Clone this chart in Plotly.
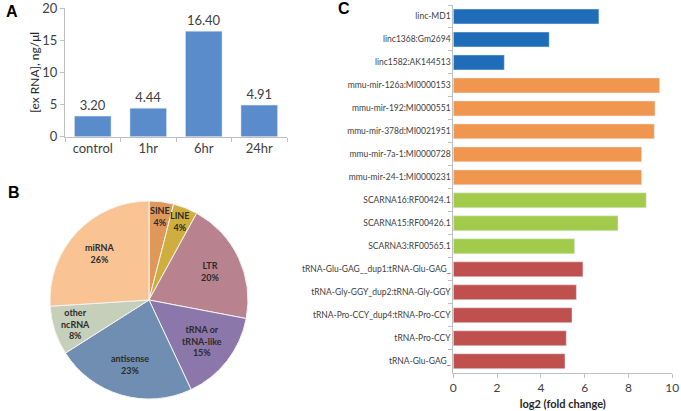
import math
import plotly.graph_objects as go

W, H = 681, 411

# ---------------- data ----------------
timepoints = ["control", "1hr", "6hr", "24hr"]
exrna_conc = [3.20, 4.44, 16.40, 4.91]
a_ticks = [0, 5, 10, 15, 20]

pie_labels = ["SINE", "LINE", "LTR", "tRNA or<br>tRNA-like", "antisense", "other<br>ncRNA", "miRNA"]
pie_pct = [4, 4, 20, 15, 23, 8, 26]

genes = [
    "linc-MD1", "linc1368:Gm2694", "linc1582:AK144513",
    "mmu-mir-126a:MI0000153", "mmu-mir-192:MI0000551", "mmu-mir-378d:MI0021951",
    "mmu-mir-7a-1:MI0000728", "mmu-mir-24-1:MI0000231",
    "SCARNA16:RF00424.1", "SCARNA15:RF00426.1", "SCARNA3:RF00565.1",
    "tRNA-Glu-GAG__dup1:tRNA-Glu-GAG_", "tRNA-Gly-GGY_dup2:tRNA-Gly-GGY",
    "tRNA-Pro-CCY_dup4:tRNA-Pro-CCY", "tRNA-Pro-CCY", "tRNA-Glu-GAG_",
]
log2fc = [6.65, 4.38, 2.33, 9.42, 9.21, 9.18, 8.60, 8.60, 8.81, 7.52, 5.54,
          5.92, 5.62, 5.42, 5.16, 5.10]
gene_group = ["lincRNA"] * 3 + ["miRNA"] * 5 + ["scaRNA"] * 3 + ["tRNA"] * 5

# ---------------- styles ----------------
FONT = "Lato, 'Open Sans', sans-serif"
group_colors = {"lincRNA": "#1F6DB8", "miRNA": "#F0964F", "scaRNA": "#A3CB4B", "tRNA": "#C0504D"}
pie_colors = ["#E0975A", "#CFAE3E", "#B8838F", "#8B77AA", "#6F8EB1", "#C5CFBA", "#F9C394"]
axis_col = "#BFBFBF"
txt_col = "#404040"


def px_x(x):
    return x / W


def px_y(y):
    return 1 - y / H


fig = go.Figure()

# Panel A
fig.add_trace(go.Bar(
    x=timepoints, y=exrna_conc, marker_color="#5A8BCB", width=0.66,
    texttemplate="%{y:.2f}", textposition="outside", cliponaxis=False,
    textfont=dict(size=13, color=txt_col, family=FONT),
    xaxis="x", yaxis="y", showlegend=False,
))

# Panel C
fig.add_trace(go.Bar(
    y=genes, x=log2fc, orientation="h", width=0.65,
    marker_color=[group_colors[g] for g in gene_group],
    xaxis="x2", yaxis="y2", showlegend=False,
))

# Panel B
pie_cx, pie_cy, pie_r = 149, 300, 99
fig.add_trace(go.Pie(
    labels=pie_labels, values=pie_pct, sort=False, direction="clockwise",
    marker=dict(colors=pie_colors, line=dict(color="#F4F4F4", width=1)),
    textinfo="none", hoverinfo="label+percent", showlegend=False,
    domain=dict(x=[px_x(pie_cx - pie_r), px_x(pie_cx + pie_r)],
                y=[px_y(pie_cy + pie_r), px_y(pie_cy - pie_r)]),
))

annotations = []
cum = 0
total = sum(pie_pct)
for lab, v in zip(pie_labels, pie_pct):
    mid = (cum + v / 2) / total * 2 * math.pi
    cum += v
    frac = 0.85 if v <= 5 else (0.78 if v <= 10 else 0.68)
    px = pie_cx + frac * pie_r * math.sin(mid)
    py = pie_cy - frac * pie_r * math.cos(mid)
    annotations.append(dict(
        x=px_x(px), y=px_y(py), xref="paper", yref="paper",
        text="<b>%s<br>%d%%</b>" % (lab, v), showarrow=False,
        font=dict(size=9, color="#2B2B2B", family=FONT),
        xanchor="center", yanchor="middle",
    ))

for letter, lx, ly in [("A", 12, 12), ("B", 14, 192), ("C", 344, 9)]:
    annotations.append(dict(
        x=px_x(lx), y=px_y(ly), xref="paper", yref="paper",
        text="<b>%s</b>" % letter, showarrow=False,
        font=dict(size=16, color="#000000", family="Arial"),
        xanchor="center", yanchor="middle",
    ))

fig.update_layout(
    width=W, height=H, margin=dict(l=0, r=0, t=0, b=0, autoexpand=False),
    paper_bgcolor="white", plot_bgcolor="white",
    font=dict(family=FONT, color=txt_col),
    annotations=annotations,
    xaxis=dict(
        domain=[px_x(65), px_x(287)], anchor="y", type="category", automargin=False,
        showline=True, linecolor=axis_col, linewidth=1,
        ticks="outside", tickson="boundaries", ticklen=4, tickcolor=axis_col,
        tickfont=dict(size=13, color=txt_col), showgrid=False,
    ),
    yaxis=dict(
        domain=[px_y(136.7), px_y(8)], anchor="x", range=[0, 20], automargin=False,
        tickmode="array", tickvals=a_ticks, ticklabeloverflow="allow",
        showline=True, linecolor=axis_col, linewidth=1,
        ticks="outside", ticklen=4, tickcolor=axis_col,
        tickfont=dict(size=13, color=txt_col), showgrid=False, zeroline=False,
        title=dict(text="[ex RNA], ng/\u03bcl", font=dict(size=12, color="#262626"), standoff=0),
    ),
    xaxis2=dict(
        domain=[px_x(453.3), px_x(672.3)], anchor="y2", range=[0, 10], dtick=2, automargin=False,
        showline=True, linecolor=axis_col, linewidth=1,
        ticks="outside", ticklen=4, tickcolor=axis_col,
        tickfont=dict(size=12, color=txt_col), showgrid=False, zeroline=False,
        title=dict(text="<b>log2 (fold change)</b>", font=dict(size=11, color="#262626"), standoff=6),
    ),
    yaxis2=dict(
        domain=[px_y(372.7), px_y(5)], anchor="x2", type="category", automargin=False,
        categoryorder="array", categoryarray=genes, autorange="reversed",
        showline=True, linecolor=axis_col, linewidth=1,
        ticks="outside", tickson="boundaries", ticklen=4, tickcolor=axis_col,
        tickfont=dict(size=8.5, color=txt_col), showgrid=False,
    ),
)

fig.write_html(
    "out.html",
    config={"displayModeBar": False},
    post_script="document.body.style.margin='0';document.body.style.overflow='hidden';",
)
